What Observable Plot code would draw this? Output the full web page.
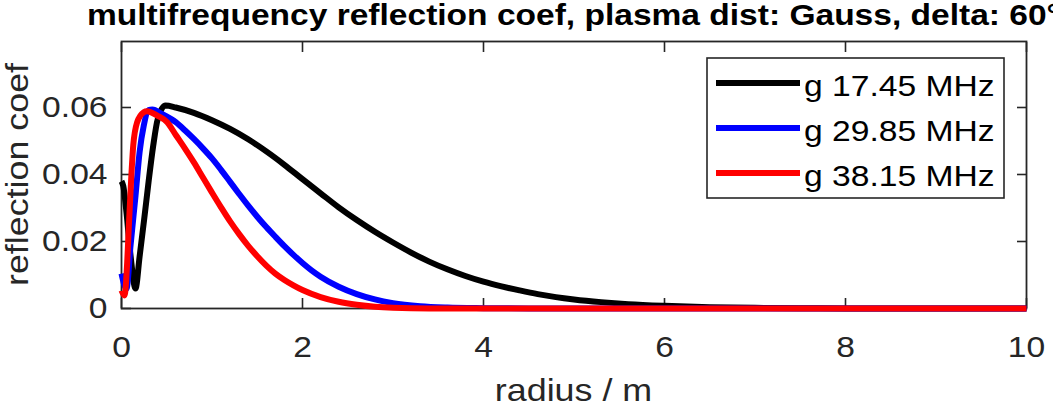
<!DOCTYPE html>
<html><head><meta charset="utf-8">
<script src="https://cdn.jsdelivr.net/npm/d3@7"></script>
<script src="https://cdn.jsdelivr.net/npm/@observablehq/plot@0.6"></script>
<style>body{margin:0;background:#fff} svg{display:block}</style>
</head><body><div id="chart"></div>
<script>
const titleText = "multifrequency reflection coef, plasma dist: Gauss, delta: 60°";
const xLabel = "radius / m";
const yLabel = "reflection coef";
const seriesNames = ["g 17.45 MHz", "g 29.85 MHz", "g 38.15 MHz"];
const seriesColors = ["#000000", "#0000ff", "#ff0000"];
const xTicks = [0, 2, 4, 6, 8, 10];
const yTicks = [0, 0.02, 0.04, 0.06];

// g 17.45 MHz
const r1 = [0, 0.02, 0.055, 0.1, 0.155, 0.2, 0.25, 0.3, 0.35, 0.4, 0.486, 0.6, 0.8, 1.0, 1.2, 1.4, 1.6, 1.8, 2.0, 2.2, 2.4, 2.6, 2.8, 3.0, 3.2, 3.4, 3.6, 3.8, 4.0, 4.2, 4.4, 4.6, 4.8, 5.0, 5.3, 5.6, 6.0, 6.5, 7, 7.5, 8, 10];
const c1 = [0.038, 0.0365, 0.0287, 0.0158, 0.006, 0.0155, 0.0265, 0.038, 0.0485, 0.0565, 0.0606, 0.06, 0.0584, 0.0562, 0.0536, 0.0505, 0.0469, 0.0429, 0.0386, 0.0344, 0.0302, 0.0264, 0.0229, 0.0197, 0.0167, 0.014, 0.0117, 0.0097, 0.008, 0.0066, 0.0054, 0.0043, 0.0034, 0.0027, 0.0019, 0.0013, 0.0008, 0.0004, 0.0002, 0.0001, 0, 0];
// g 29.85 MHz
const r2 = [0, 0.055, 0.1, 0.155, 0.2, 0.246, 0.3, 0.34, 0.45, 0.6, 0.7, 0.8, 0.9, 1.0, 1.1, 1.2, 1.3, 1.4, 1.5, 1.6, 1.7, 1.8, 1.9, 2.0, 2.1, 2.2, 2.4, 2.6, 2.8, 3.0, 3.3, 3.6, 4.0, 4.5, 10];
const c2 = [0.0104, 0.0059, 0.0188, 0.0337, 0.0467, 0.0546, 0.0592, 0.0594, 0.058, 0.0556, 0.0532, 0.0506, 0.0478, 0.0448, 0.0414, 0.0378, 0.0342, 0.0307, 0.0274, 0.0243, 0.0214, 0.0186, 0.016, 0.0136, 0.0114, 0.0095, 0.0065, 0.0043, 0.0027, 0.0016, 0.0007, 0.0003, 0.0001, 0, 0];
// g 38.15 MHz
const r3 = [0, 0.033, 0.063, 0.08, 0.107, 0.13, 0.173, 0.246, 0.28, 0.4, 0.505, 0.6, 0.7, 0.8, 0.9, 1.0, 1.1, 1.2, 1.3, 1.4, 1.5, 1.6, 1.7, 1.8, 1.9, 2.0, 2.2, 2.4, 2.6, 2.8, 3.0, 3.4, 10];
const c3 = [0.0054, 0.0039, 0.0138, 0.024, 0.0387, 0.0487, 0.0556, 0.0586, 0.0589, 0.0575, 0.0556, 0.0518, 0.0478, 0.0436, 0.0391, 0.0346, 0.0302, 0.026, 0.0222, 0.0187, 0.0156, 0.0128, 0.0104, 0.0085, 0.0069, 0.0055, 0.0034, 0.002, 0.0011, 0.0005, 0.0002, 0, 0];

const radii = [r1, r2, r3];
const coefs = [c1, c2, c3];
const rows = seriesNames.flatMap((name, i) => radii[i].map((r, j) => ({name, r, c: coefs[i][j]})));

const ink = "#262626";
const font = "'Liberation Sans', Arial, Helvetica, sans-serif";
const tickFont = 30;
const labelFont = 32;
const stretch = 1.12;

const chart = Plot.plot({
  width: 1053, height: 406,
  marginLeft: 121, marginRight: 27, marginTop: 41, marginBottom: 98,
  style: {fontFamily: font, background: "#fff", overflow: "visible"},
  x: {domain: [0, 10]},
  y: {domain: [0, 0.0797]},
  color: {domain: seriesNames, range: seriesColors},
  marks: [
    Plot.axisX(xTicks, {anchor: "bottom", tickSize: 0, tickPadding: 27, fontSize: tickFont, fill: ink, label: null, tickFormat: d => String(d)}),
    Plot.axisX(xTicks, {anchor: "bottom", tickSize: -10, stroke: ink, strokeWidth: 1.6, tickFormat: () => "", label: null}),
    Plot.axisX(xTicks, {anchor: "top", tickSize: -10, stroke: ink, strokeWidth: 1.6, tickFormat: () => "", label: null}),
    Plot.axisY(yTicks, {anchor: "left", tickSize: 0, tickPadding: 14, fontSize: tickFont, fill: ink, label: null, tickFormat: d => d === 0 ? "0" : d.toFixed(2)}),
    Plot.axisY(yTicks, {anchor: "left", tickSize: -10, stroke: ink, strokeWidth: 1.6, tickFormat: () => "", label: null}),
    Plot.axisY(yTicks, {anchor: "right", tickSize: -10, stroke: ink, strokeWidth: 1.6, tickFormat: () => "", label: null}),
    Plot.frame({stroke: ink, strokeWidth: 1.8}),
    Plot.line(rows, {x: "r", y: "c", z: "name", stroke: "name", strokeWidth: 6, curve: "monotone-x", strokeLinejoin: "round", strokeLinecap: "butt"})
  ]
});

document.getElementById("chart").appendChild(chart);
const svg = d3.select(chart);

// title
svg.append("text")
  .attr("x", 573.5).attr("y", 25)
  .attr("text-anchor", "middle")
  .attr("font-family", font).attr("font-weight", "bold").attr("font-size", 30)
  .attr("fill", "#000")
  .attr("textLength", 973).attr("lengthAdjust", "spacingAndGlyphs")
  .text(titleText);

// axis labels
svg.append("text")
  .attr("class", "stretch")
  .attr("x", 573.5).attr("y", 401)
  .attr("text-anchor", "middle")
  .attr("font-family", font).attr("font-size", labelFont).attr("fill", ink)
  .text(xLabel);
svg.append("text")
  .attr("class", "stretch")
  .attr("transform", "translate(28,174.5) rotate(-90)")
  .attr("text-anchor", "middle")
  .attr("font-family", font).attr("font-size", labelFont).attr("fill", ink)
  .text(yLabel);

// legend
const lg = svg.append("g");
lg.append("rect").attr("x", 707).attr("y", 58).attr("width", 297).attr("height", 140)
  .attr("fill", "#fff").attr("stroke", ink).attr("stroke-width", 1.6);
seriesNames.forEach((name, i) => {
  const yy = 83 + i * 45;
  lg.append("line").attr("x1", 716).attr("x2", 800).attr("y1", yy).attr("y2", yy)
    .attr("stroke", seriesColors[i]).attr("stroke-width", 6);
  lg.append("text").attr("class", "stretch")
    .attr("x", 804).attr("y", yy + 13)
    .attr("text-anchor", "start")
    .attr("font-family", font).attr("font-size", tickFont).attr("fill", "#000")
    .text(name);
});

// horizontal stretch of text to mimic the reference's wide glyphs
svg.selectAll("g[aria-label$='tick label'] text, text.stretch").each(function() {
  const len = this.getComputedTextLength();
  if (len > 0) {
    this.setAttribute("textLength", (len * stretch).toFixed(1));
    this.setAttribute("lengthAdjust", "spacingAndGlyphs");
  }
});
</script>
</body></html>
